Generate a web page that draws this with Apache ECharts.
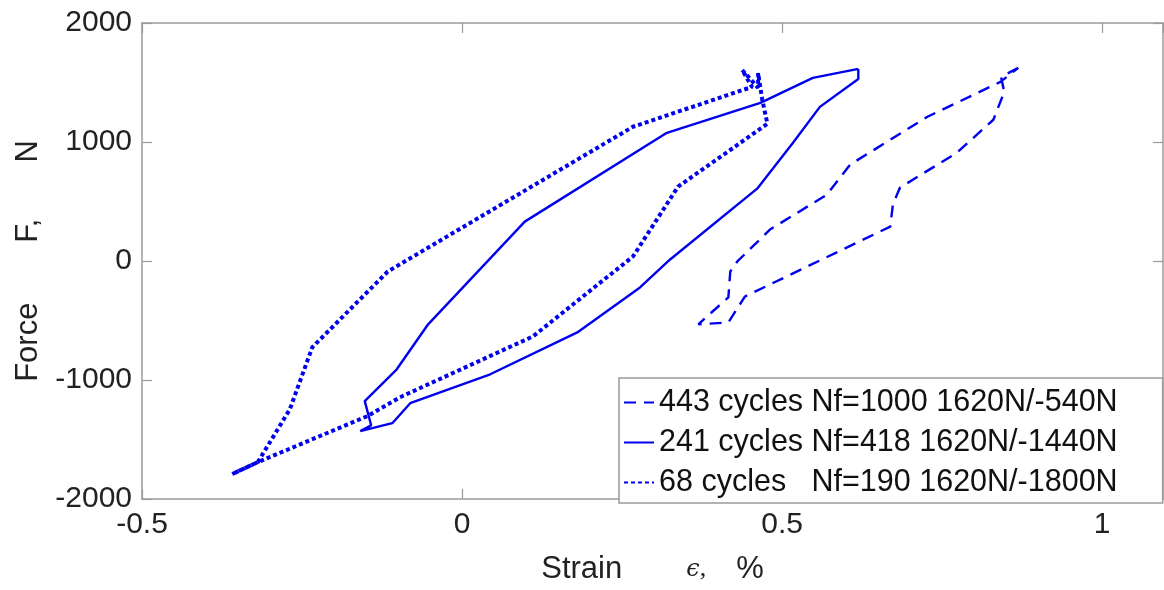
<!DOCTYPE html>
<html>
<head>
<meta charset="utf-8">
<script src="https://cdn.jsdelivr.net/npm/echarts@6/dist/echarts.min.js"></script>
<style>
html,body{margin:0;padding:0;background:#fff;}
#chart{width:1164px;height:590px;}
</style>
</head>
<body>
<div id="chart"></div>
<script>
// ---- data ----
const names = [
  '443 cycles Nf=1000 1620N/-540N',
  '241 cycles Nf=418 1620N/-1440N',
  '68 cycles\u00a0\u00a0\u00a0Nf=190 1620N/-1800N'
];
const strain443 = [0.869, 0.842, 0.847, 0.830, 0.773, 0.684, 0.673, 0.669, 0.442, 0.416, 0.369, 0.416, 0.419, 0.430, 0.481, 0.570, 0.606, 0.727, 0.841, 0.869];
const force443  = [1623, 1547, 1421, 1187, 910, 616, 474, 289, -298, -516, -532, -306, -88, -4, 264, 558, 809, 1212, 1505, 1623];
const strain241 = [0.619, 0.619, 0.559, 0.517, 0.461, 0.325, 0.278, 0.180, 0.044, -0.081, -0.109, -0.159, -0.142, -0.152, -0.102, -0.053, 0.098, 0.320, 0.466, 0.548, 0.619];
const force241  = [1614, 1530, 1295, 994, 608, 13, -222, -600, -952, -1195, -1363, -1430, -1380, -1178, -910, -532, 331, 1077, 1329, 1539, 1614];
const strain68  = [-0.359, -0.319, -0.269, -0.234, -0.116, 0.267, 0.453, 0.4375, 0.4625, 0.4625, 0.469, 0.477, 0.3375, 0.267, 0.111, -0.097, -0.148, -0.319, -0.359];
const force68   = [-1790, -1690, -1245, -725, -88, 1128, 1463, 1606, 1455, 1580, 1354, 1153, 625, 38, -633, -1145, -1304, -1690, -1790];
const xTicks = [-0.5, 0, 0.5, 1];
const yTicks = [-2000, -1000, 0, 1000, 2000];

function zip(xs, ys){ return xs.map((x,i)=>[x, ys[i]]); }

const FONT = '"Liberation Sans", Arial, sans-serif';
const BLUE = '#0000ee';
const AXC = '#9a9a9a';

const chart = echarts.init(document.getElementById('chart'), null, {renderer:'canvas'});

const baseAxisLine = {show:true, onZero:false, lineStyle:{color:AXC, width:1.5}};
const tickStyle = {show:true, inside:true, length:10, lineStyle:{color:AXC, width:1.2}};
const xFmt = v => xTicks.some(t=>Math.abs(t-v)<1e-9) ? String(v) : '';
const yFmt = v => yTicks.some(t=>Math.abs(t-v)<1e-9) ? String(v) : '';

const option = {
  animation:false,
  backgroundColor:'#fff',
  grid:{left:142, top:23, right:1, bottom:90, containLabel:false},
  xAxis:[{
    type:'value', min:-0.5, max:1.095, interval:0.5, position:'bottom',
    axisLine:baseAxisLine, axisTick:tickStyle,
    splitLine:{show:false},
    axisLabel:{formatter:xFmt, fontFamily:FONT, fontSize:30, color:'#222', margin:11, showMaxLabel:false},
    name:'{t|Strain}{g1|}{e|ϵ}{c|,}{g2|}{t|%}',
    nameLocation:'middle', nameGap:55,
    nameTextStyle:{rich:{
      t:{fontFamily:FONT, fontSize:31, color:'#222'},
      g1:{width:64},
      e:{fontFamily:'"DejaVu Serif", "Liberation Serif", serif', fontStyle:'italic', fontSize:24, color:'#222'},
      c:{fontFamily:'"Liberation Serif", serif', fontSize:26, color:'#222'},
      g2:{width:30}
    }}
  },{
    type:'value', min:-0.5, max:1.095, interval:0.5, position:'top',
    axisLine:baseAxisLine, axisTick:tickStyle,
    axisLabel:{show:false}, splitLine:{show:false}
  }],
  yAxis:[{
    type:'value', min:-2000, max:2000, interval:1000, position:'left',
    axisLine:baseAxisLine, axisTick:tickStyle,
    splitLine:{show:false},
    axisLabel:{formatter:yFmt, fontFamily:FONT, fontSize:30, color:'#222', margin:10},
    name:'{t|Force}{g1|}{t|F,}{g2|}{t|N}',
    nameLocation:'middle', nameGap:97,
    nameTextStyle:{rich:{
      t:{fontFamily:FONT, fontSize:31, color:'#222'},
      g1:{width:60},
      g2:{width:56}
    }}
  },{
    type:'value', min:-2000, max:2000, interval:1000, position:'right',
    axisLine:baseAxisLine, axisTick:tickStyle,
    axisLabel:{show:false}, splitLine:{show:false}
  }],
  legend:{
    orient:'vertical', left:619, top:378,
    padding:[9, 45, 5, 4],
    itemGap:9, itemWidth:30, itemHeight:14,
    backgroundColor:'#fff', borderColor:AXC, borderWidth:1.5, borderRadius:0,
    itemStyle:{color:'rgba(0,0,0,0)', borderWidth:0},
    textStyle:{fontFamily:FONT, fontSize:30.5, color:'#111', lineHeight:30},
    data:names
  },
  series:[
    {name:names[0], type:'line', data:zip(strain443, force443), symbol:'none', showSymbol:false,
     lineStyle:{color:BLUE, width:2.4, type:[12,8]}, itemStyle:{color:BLUE}},
    {name:names[1], type:'line', data:zip(strain241, force241), symbol:'none', showSymbol:false,
     lineStyle:{color:BLUE, width:2.4, type:'solid'}, itemStyle:{color:BLUE}},
    {name:names[2], type:'line', data:zip(strain68, force68), symbol:'none', showSymbol:false,
     lineStyle:{color:BLUE, width:4, type:[4,3]}, itemStyle:{color:BLUE}}
  ]
};
chart.setOption(option);
</script>
</body>
</html>
